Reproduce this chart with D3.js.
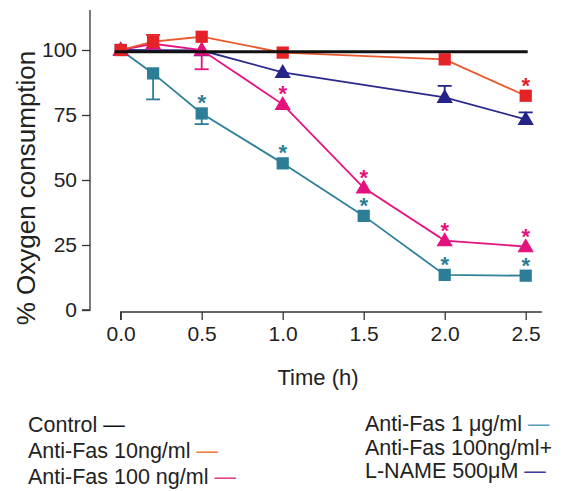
<!DOCTYPE html>
<html>
<head>
<meta charset="utf-8">
<script src="https://cdn.jsdelivr.net/npm/d3@7"></script>
<style>
  body { margin: 0; background: #fff; }
  svg { font-family: "Liberation Sans", Arial, sans-serif; }
</style>
</head>
<body>
<svg id="chart" width="573" height="491"></svg>
<script>
// values
const xTicks = [0.0, 0.5, 1.0, 1.5, 2.0, 2.5];
const yTicks = [0, 25, 50, 75, 100];

const controlTimes = [0, 2.5];
const controlValues = [99.3, 99.3];

const fas10Times = [0, 0.2, 0.5, 1.0, 2.0, 2.5];
const fas10Values = [100, 103.2, 105.1, 99, 96.4, 82.4];
const fas10ErrUp = [0, 2.6, 0, 0, 0, 0];
const fas10Stars = [0, 0, 0, 0, 0, 1];

const fas100Times = [0, 0.2, 0.5, 1.0, 1.5, 2.0, 2.5];
const fas100Values = [100, 102.4, 100, 79.1, 47, 26.7, 24.4];
const fas100ErrDown = [0, 0, 7.4, 0, 0, 0, 0];
const fas100Stars = [0, 0, 0, 1, 1, 1, 1];

const fas1Times = [0, 0.2, 0.5, 1.0, 1.5, 2.0, 2.5];
const fas1Values = [100, 91, 75.6, 56.4, 36.2, 13.5, 13.2];
const fas1ErrDown = [0, 10, 4.1, 0, 0, 0, 0];
const fas1Stars = [0, 0, 1, 1, 1, 1, 1];

const lnameTimes = [0, 0.5, 1.0, 2.0, 2.5];
const lnameValues = [100, 99.8, 91.4, 81.8, 73.3];
const lnameErrUp = [0, 0, 0, 4.4, 2.7];

const svg = d3.select("#chart");

const x = d3.scaleLinear().domain([0, 2.5]).range([120.7, 525.7]);
const y = d3.scaleLinear().domain([0, 100]).range([310, 50]);

// y axis
const yAxis = svg.append("g")
    .attr("transform", "translate(90,0)")
    .call(d3.axisLeft(y).tickValues(yTicks).tickSize(8).tickPadding(5));
yAxis.select(".domain").attr("d", `M0,${y(115.4)}V${y(0)}H-8`);
yAxis.selectAll("line").attr("stroke", "#333").attr("stroke-width", 1.3);
yAxis.select(".domain").attr("stroke", "#333").attr("stroke-width", 1.3);
yAxis.selectAll("text").attr("font-size", 21).attr("fill", "#222");

// x axis (offset below)
const xAxis = svg.append("g")
    .attr("transform", "translate(0,312)")
    .call(d3.axisBottom(x).tickValues(xTicks).tickFormat(d3.format(".1f")).tickSize(8).tickPadding(6));
xAxis.select(".domain").attr("d", `M${x(0)},8V0H${x(2.6)}`);
xAxis.selectAll("line").attr("stroke", "#333").attr("stroke-width", 1.3);
xAxis.select(".domain").attr("stroke", "#333").attr("stroke-width", 1.3);
xAxis.selectAll("text").attr("font-size", 21).attr("fill", "#222");

svg.append("text")
    .attr("x", 318).attr("y", 385)
    .attr("text-anchor", "middle")
    .attr("font-size", 22)
    .attr("fill", "#222")
    .text("Time (h)");

svg.append("text")
    .attr("transform", "translate(35,188) rotate(-90)")
    .attr("text-anchor", "middle")
    .attr("font-size", 26)
    .attr("fill", "#222")
    .text("% Oxygen consumption");

const line = d3.line().x(d => x(d.t)).y(d => y(d.v));

function zip(times, values, errUp, errDown, stars) {
    return times.map((t, i) => ({
        t, v: values[i],
        up: errUp ? errUp[i] : 0,
        down: errDown ? errDown[i] : 0,
        star: stars ? stars[i] : 0
    }));
}

const series = [
    {data: zip(fas1Times, fas1Values, null, fas1ErrDown, fas1Stars), line: "#2f8199", fill: "#2c7e96", shape: d3.symbolSquare},
    {data: zip(lnameTimes, lnameValues, lnameErrUp, null, null), line: "#2a2a8c", fill: "#23238a", shape: d3.symbolTriangle},
    {data: zip(fas100Times, fas100Values, null, fas100ErrDown, fas100Stars), line: "#e5137f", fill: "#e5117e", shape: d3.symbolTriangle},
    {data: zip(fas10Times, fas10Values, fas10ErrUp, null, fas10Stars), line: "#e8582c", fill: "#e42228", shape: d3.symbolSquare}
];

series.forEach(s => {
    const g = svg.append("g");
    g.append("path")
        .datum(s.data)
        .attr("d", line)
        .attr("fill", "none")
        .attr("stroke", s.line)
        .attr("stroke-width", 1.8);

    const errs = s.data.filter(d => d.up || d.down);
    errs.forEach(d => {
        const end = d.up ? d.v + d.up : d.v - d.down;
        g.append("line")
            .attr("x1", x(d.t)).attr("x2", x(d.t))
            .attr("y1", y(d.v)).attr("y2", y(end))
            .attr("stroke", s.fill).attr("stroke-width", 1.8);
        g.append("line")
            .attr("x1", x(d.t) - 7).attr("x2", x(d.t) + 7)
            .attr("y1", y(end)).attr("y2", y(end))
            .attr("stroke", s.fill).attr("stroke-width", 1.8);
    });

    g.selectAll(".mark")
        .data(s.data)
        .join("path")
        .attr("transform", d => `translate(${x(d.t)},${y(d.v) + (s.shape === d3.symbolTriangle ? 1 : 0)})`)
        .attr("d", d3.symbol().type(s.shape).size(s.shape === d3.symbolSquare ? 150 : 115))
        .attr("fill", s.fill);

    g.selectAll(".star")
        .data(s.data.filter(d => d.star))
        .join("text")
        .attr("x", d => x(d.t))
        .attr("y", d => y(d.v) - 16 + 13)
        .attr("text-anchor", "middle")
        .attr("font-size", 22)
        .attr("font-weight", "bold")
        .attr("fill", s.fill)
        .text("*");
});

// control line on top
svg.append("path")
    .datum(zip(controlTimes, controlValues))
    .attr("d", d => `M${x(0) - 6},${y(d[0].v)}H${x(2.5) + 2}`)
    .attr("stroke", "#111")
    .attr("stroke-width", 3);

// legend
const legendLeft = [
    {label: "Control ", dash: "#111", y: 432},
    {label: "Anti-Fas 10ng/ml ", dash: "#f07a3a", y: 458},
    {label: "Anti-Fas 100 ng/ml ", dash: "#e0408a", y: 484}
];
const legendRight = [
    {label: "Anti-Fas 1 μg/ml ", dash: "#5aa0c0", y: 431},
    {label: "Anti-Fas 100ng/ml+", dash: null, y: 455},
    {label: "L-NAME 500μM ", dash: "#3a3a9a", y: 478}
];

function drawLegend(items, lx) {
    items.forEach(it => {
        const t = svg.append("text")
            .attr("x", lx).attr("y", it.y)
            .attr("font-size", 21.5)
            .attr("fill", "#222");
        t.append("tspan").text(it.label);
        if (it.dash) t.append("tspan").attr("fill", it.dash).text("—");
    });
}
drawLegend(legendLeft, 28);
drawLegend(legendRight, 365);
</script>
</body>
</html>
